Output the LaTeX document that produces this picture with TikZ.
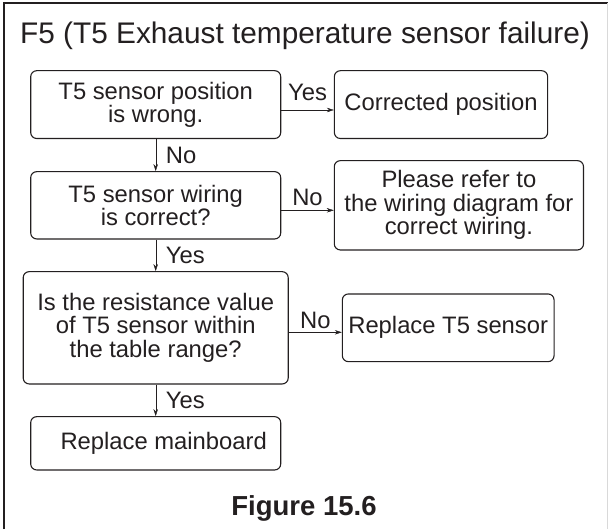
\documentclass[tikz,border=0pt]{standalone}
\usepackage{fontspec}
\setmainfont{Liberation Sans}
\usetikzlibrary{arrows.meta,positioning}
\definecolor{ink}{HTML}{231F20}
\newcommand{\bodyfont}{\fontsize{23.8}{23.5}\selectfont}

\begin{document}
\begin{tikzpicture}[x=1pt,y=-1pt,color=ink,
  >={Stealth[length=7pt,width=4.5pt]},
  box/.style={draw,rounded corners=6pt,line width=1.1pt,align=center,inner sep=0pt,font=\bodyfont},
  lbl/.style={font=\bodyfont,inner sep=0pt}]
\useasboundingbox (0,0) rectangle (609,529);
\draw[line width=1.6pt] (4,529) -- (4,3) -- (607.5,3);
\draw[gray!30,line width=1pt] (607.5,3) -- (607.5,529);
\node[anchor=base] (title) at (305,44) {\fontsize{29.8}{30}\selectfont F5 (T5 Exhaust temperature sensor failure)};
% left column
\node[box,minimum width=250pt,minimum height=67.8pt] (b1) at (155.7,104.6) {T5 sensor position\\is wrong.};
\node[box,minimum width=250pt,minimum height=67.3pt] (b2) at (155.7,205.3) {T5 sensor wiring\\is correct?};
\node[box,minimum width=265pt,minimum height=112.3pt] (b3) at (155.7,327.8) {Is the resistance value\\of T5 sensor within\\the table range?};
\node[box,minimum width=250pt,minimum height=53.3pt] (b4) at (155.7,443.3) {\hspace*{16pt}Replace mainboard};
% right column
\node[box,minimum width=213.3pt,minimum height=67.8pt] (r1) at (441,104.6) {Corrected position};
\node[box,minimum width=249.2pt,minimum height=89.3pt] (r2) at (458.9,205.3) {Please refer to\\the wiring diagram for\\correct wiring.};
\node[box,minimum width=211.7pt,minimum height=67.7pt] (r3) at (448.2,327.8) {Replace T5 sensor};
% arrows
\draw[->] (b1) -- (b2) node[lbl,midway,right,xshift=10pt] {No};
\draw[->] (b2) -- (b3) node[lbl,midway,right,xshift=10pt] {Yes};
\draw[->] (b3) -- (b4) node[lbl,midway,right,xshift=10pt] {Yes};
\coordinate (y1) at ([yshift=-5.4pt]b1.east);
\coordinate (y2) at ([yshift=-5pt]b2.east);
\coordinate (y3) at ([yshift=-4.5pt]b3.east);
\draw[->] (y1) -- (y1 -| r1.west) node[lbl,midway,anchor=base,yshift=9pt] {Yes};
\draw[->] (y2) -- (y2 -| r2.west) node[lbl,midway,anchor=base,yshift=5pt] {No};
\draw[->] (y3) -- (y3 -| r3.west) node[lbl,midway,anchor=base,yshift=3.5pt] {No};
\node[anchor=base] (fig) at (304,515) {\fontsize{27.5}{28}\selectfont\bfseries Figure 15.6};
\end{tikzpicture}
\end{document}
